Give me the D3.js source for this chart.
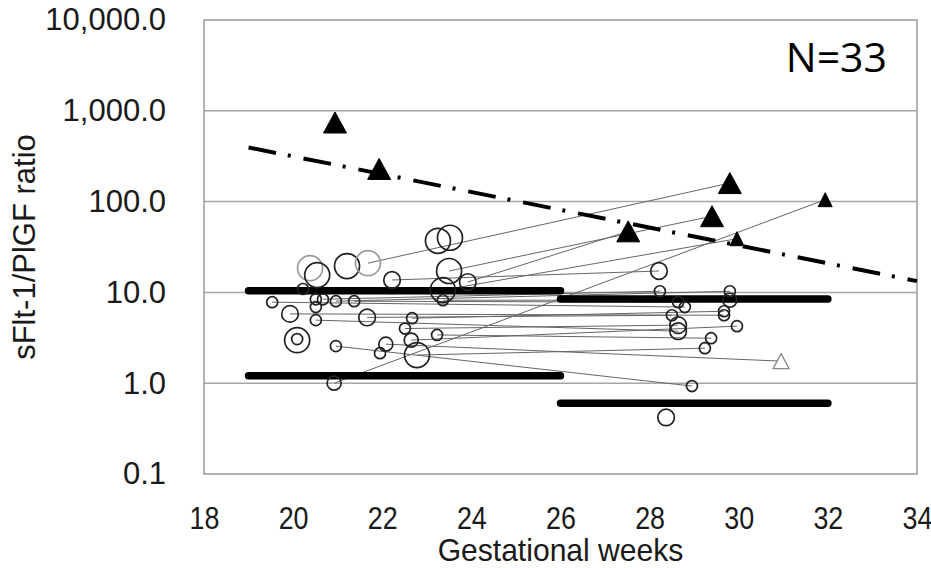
<!DOCTYPE html>
<html>
<head>
<meta charset="utf-8">
<script src="https://cdn.jsdelivr.net/npm/d3@7"></script>
<style>
  body { margin: 0; background: #fff; }
  svg { display: block; font-family: "Liberation Sans", Arial, sans-serif; }
</style>
</head>
<body>
<svg width="931" height="568"></svg>
<script>
// each visit: gestational week, sFlt-1/PlGF ratio, marker kind
// c1..c4 = open circles (small -> large), g = grey outline, T/t = filled triangle, to = open triangle
const weeks = [
  20.38, 20.54, 21.21, 21.68, 22.22, 20.22, 19.53, 20.51, 20.67, 20.96,
  21.37, 20.51, 19.93, 20.51, 21.66, 20.09, 20.09, 20.96, 22.08, 21.95,
  20.92, 23.25, 23.52, 23.50, 23.36, 23.92, 23.36, 22.67, 22.51, 22.65,
  23.23, 22.78,
  28.21, 28.23, 29.80, 29.80, 28.79, 28.64, 28.50, 29.67, 29.67, 29.96,
  28.64, 28.64, 29.38, 29.24, 28.95, 28.37, 30.95,
  27.52, 29.40, 29.80, 29.96, 31.94, 20.94, 21.93
];
const ratios = [
  18.5, 15.5, 19.5, 21.0, 13.7, 10.9, 7.8, 8.4, 8.4, 8.0,
  8.0, 6.9, 5.8, 4.95, 5.3, 2.98, 3.06, 2.56, 2.69, 2.14,
  1.0, 37, 40, 17.2, 10.6, 13.0, 8.2, 5.2, 4.0, 2.98,
  3.4, 2.04,
  17.2, 10.3, 10.3, 8.2, 6.9, 7.8, 5.6, 6.2, 5.6, 4.25,
  4.36, 3.74, 3.13, 2.43, 0.93, 0.42, 1.75,
  47, 69, 160, 39, 105, 743, 229
];
const markers = [
  "c4g", "c4", "c4", "c4g", "c3", "c1", "c1", "c1", "c1", "c1",
  "c1", "c1", "c3", "c1", "c3", "c4", "c1", "c1", "c2", "c1",
  "c2", "c4", "c4", "c4", "c4", "c3", "c1", "c1", "c1", "c2",
  "c1", "c4",
  "c3", "c1", "c1", "c2", "c1", "c1", "c1", "c1", "c1", "c1",
  "c3", "c3", "c1", "c1", "c1", "c3", "to",
  "T", "T", "T", "t", "t", "T", "T"
];
// first visit -> second visit (indexes into the arrays above)
const links = [
  [4, 32], [8, 33], [9, 34], [26, 35], [6, 36], [10, 37], [14, 38],
  [27, 39], [12, 40], [29, 41], [28, 42], [13, 43], [30, 44], [31, 45],
  [17, 46], [18, 48], [25, 49], [23, 50], [3, 51], [24, 52], [20, 53]
];

// reference ranges per period
const refStart = [19, 26];
const refEnd = [26, 32];
const refUpper = [10.4, 8.45];
const refLower = [1.21, 0.6];

// cut-off line
const cutWeeks = [19, 34];
const cutRatios = [395, 13.3];

const xTicks = [18, 20, 22, 24, 26, 28, 30, 32, 34];
const yTicks = [0.1, 1, 10, 100, 1000, 10000];

const svg = d3.select("svg"),
  margin = { top: 20, right: 14, bottom: 94, left: 204 },
  width = +svg.attr("width") - margin.left - margin.right,
  height = +svg.attr("height") - margin.top - margin.bottom;

svg.append("rect").attr("width", 931).attr("height", 568).attr("fill", "#fff");

const x = d3.scaleLinear().domain([18, 34]).range([0, width]);
const y = d3.scaleLog().domain([0.1, 10000]).range([height, 0]);

const g = svg.append("g").attr("transform", `translate(${margin.left},${margin.top})`);

// grid + frame
g.selectAll(".grid")
  .data(yTicks.slice(1, -1))
  .enter()
  .append("line")
  .attr("x1", 0)
  .attr("x2", width)
  .attr("y1", d => y(d))
  .attr("y2", d => y(d))
  .attr("stroke", "#a6a6a6")
  .attr("stroke-width", 1.5);

g.append("rect")
  .attr("width", width)
  .attr("height", height)
  .attr("fill", "none")
  .attr("stroke", "#999")
  .attr("stroke-width", 1.5);

// axes
const yAxis = g.append("g")
  .call(d3.axisLeft(y).tickValues(yTicks).tickFormat(d3.format(",.1f")).tickSize(0).tickPadding(38));
yAxis.select(".domain").remove();
yAxis.selectAll("text")
  .attr("font-size", 31)
  .attr("fill", "#1a1a1a");

const xAxis = g.append("g")
  .attr("transform", `translate(0,${height})`)
  .call(d3.axisBottom(x).tickValues(xTicks).tickFormat(d3.format("d")).tickSize(0).tickPadding(32));
xAxis.select(".domain").remove();
// the original digits are a narrow face
xAxis.selectAll("text")
  .attr("font-size", 32)
  .attr("fill", "#1a1a1a")
  .attr("transform", "scale(0.84,1)");

// connecting lines
g.selectAll(".link")
  .data(links)
  .enter()
  .append("line")
  .attr("x1", d => x(weeks[d[0]]))
  .attr("y1", d => y(ratios[d[0]]))
  .attr("x2", d => x(weeks[d[1]]))
  .attr("y2", d => y(ratios[d[1]]))
  .attr("stroke", "#666")
  .attr("stroke-width", 1);

// reference bars
const bars = refStart.map((s, i) => [
  { a: s, b: refEnd[i], v: refUpper[i] },
  { a: s, b: refEnd[i], v: refLower[i] }
]).flat();
g.selectAll(".ref")
  .data(bars)
  .enter()
  .append("line")
  .attr("x1", d => x(d.a))
  .attr("x2", d => x(d.b))
  .attr("y1", d => y(d.v))
  .attr("y2", d => y(d.v))
  .attr("stroke", "#000")
  .attr("stroke-width", 7.5)
  .attr("stroke-linecap", "round");

// cut-off dash-dot
g.append("path")
  .datum(cutWeeks.map((w, i) => [w, cutRatios[i]]))
  .attr("d", d3.line().x(d => x(d[0])).y(d => y(d[1])))
  .attr("fill", "none")
  .attr("stroke", "#000")
  .attr("stroke-width", 4)
  .attr("stroke-dasharray", "28,12,3,13");

// markers
const pts = weeks.map((w, i) => ({ w: w, v: ratios[i], m: markers[i] }));
const radius = { c1: 5.5, c2: 7, c3: 8.3, c4: 12.5 };

g.selectAll(".pt")
  .data(pts.filter(d => d.m[0] === "c"))
  .enter()
  .append("circle")
  .attr("cx", d => x(d.w))
  .attr("cy", d => y(d.v))
  .attr("r", d => radius[d.m.slice(0, 2)])
  .attr("fill", "none")
  .attr("stroke", d => (d.m.endsWith("g") ? "#9a9a9a" : "#222"))
  .attr("stroke-width", 1.7);

const triSize = { T: [23, 21], t: [14, 14], to: [16, 15] };
const tri = d => {
  const cx = x(d.w), cy = y(d.v), s = triSize[d.m];
  return `M${cx},${cy - s[1] / 2}L${cx + s[0] / 2},${cy + s[1] / 2}L${cx - s[0] / 2},${cy + s[1] / 2}Z`;
};
g.selectAll(".tri")
  .data(pts.filter(d => d.m[0] === "T" || d.m[0] === "t"))
  .enter()
  .append("path")
  .attr("d", tri)
  .attr("fill", d => (d.m === "to" ? "#fff" : "#000"))
  .attr("stroke", d => (d.m === "to" ? "#888" : "#000"))
  .attr("stroke-width", d => (d.m === "to" ? 1.3 : 1));

// titles
svg.append("text")
  .attr("transform", "translate(35,247) rotate(-90)")
  .attr("text-anchor", "middle")
  .attr("font-size", 31)
  .attr("fill", "#1a1a1a")
  .text("sFlt-1/PlGF ratio");

const cx = margin.left + width / 2;
svg.append("text")
  .attr("transform", `translate(${cx},561) scale(0.94,1)`)
  .attr("text-anchor", "middle")
  .attr("font-size", 32)
  .attr("fill", "#1a1a1a")
  .text("Gestational weeks");

svg.append("text")
  .attr("x", 887)
  .attr("y", 72)
  .attr("text-anchor", "end")
  .attr("font-family", "'Open Sans', sans-serif")
  .attr("font-size", 41)
  .attr("fill", "#000")
  .text("N=33");
</script>
</body>
</html>
